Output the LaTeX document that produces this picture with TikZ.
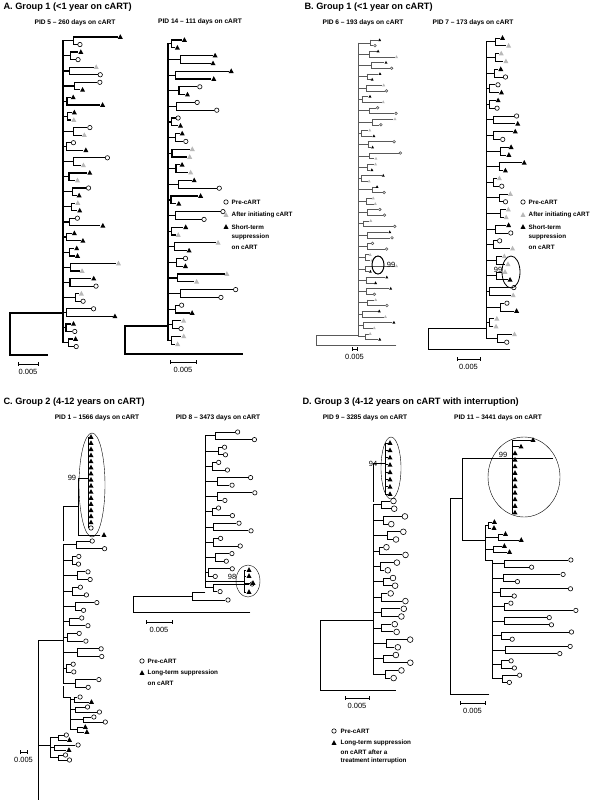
\documentclass[tikz,border=0pt]{standalone}
\usepackage{fontspec}
\setmainfont{Liberation Sans}
\usepackage{tikz}

\tikzset{
  pre/.pic={\draw[line width=0.6pt, solid] (0,0) circle (2.2);},
  aft/.pic={\fill[gray!55] (0,-2.8) -- (2.5,1.8) -- (-2.5,1.8) -- cycle;},
  sup/.pic={\fill[black] (0,-2.8) -- (2.5,1.8) -- (-2.5,1.8) -- cycle;},
  ttl/.style={anchor=west, font=\bfseries\fontsize{9.2}{10}\selectfont},
  sub/.style={font=\bfseries\fontsize{6.6}{7.5}\selectfont},
  leg/.style={anchor=west, font=\bfseries\fontsize{6.3}{7}\selectfont, inner sep=0.5pt},
  bs/.style={font=\fontsize{7.5}{8.5}\selectfont},
  bar/.style={line width=0.6pt},
}
\def\tipsc{1}

% one tip symbol: 1 pre-cART, 2 after initiating, 3 suppression
\newcommand\tipmark[3]{%
  \pgfmathtruncatemacro\mk{#1==0 ? random(1,3) : (#1==4 ? 2*random(0,1)+1 : #1)}%
  \ifcase\mk\or\pic[scale=\tipsc] at (#2,#3) {pre};\or\pic[scale=\tipsc] at (#2,#3) {aft};\or\pic[scale=\tipsc] at (#2,#3) {sup};\fi}

% ladder of cherries: backbone x, top y, cherries, spacing, length, seed, tips
\newcommand\phylo[7]{%
  \pgfmathsetseed{#6}
  \foreach \k in {1,...,#3}{
    \pgfmathsetmacro\ya{#2+(2*\k-2)*#4}
    \pgfmathsetmacro\yb{\ya+#4}
    \pgfmathsetmacro\ym{\ya+#4/2}
    \pgfmathsetmacro\xc{#1+3+rnd*12}
    \draw (#1,\ym) -- (\xc,\ym) (\xc,\ya) -- (\xc,\yb);
    \foreach \yy in {\ya,\yb}{
      \pgfmathsetmacro\xl{\xc+3+rnd^2*#5}
      \draw (\xc,\yy) -- (\xl,\yy);
      \tipmark{#7}{\xl+3*\tipsc}{\yy}
    }
  }
  \draw (#1,#2+#4/2) -- (#1,#2+#3*2*#4-1.5*#4);
}

% scale bar: left x, right x, y
\newcommand\scalebar[3]{%
  \draw[bar] (#1,#3) -- (#2,#3);
  \draw[bar] (#1,#3-1.5) -- (#1,#3+1.5) (#2,#3-1.5) -- (#2,#3+1.5);
  \node[bs] at ({(#1+#2)/2},#3+8) {0.005};
}

\begin{document}
\begin{tikzpicture}[x=1pt, y=-1pt, line cap=rect]
\useasboundingbox[fill=white] (0,0) rectangle (606,800);

% ---------------- Panel A
\node[ttl] at (0,7) {A. Group 1 (<1 year on cART)};
\node[sub] at (75,23) {PID 5 – 260 days on cART};
\node[sub] at (200,22) {PID 14 – 111 days on cART};
\begin{scope}[line width=1.2pt]
  \phylo{63}{37}{21}{7.55}{45}{11}{0}
  \draw (63,313) -- (10,313) -- (10,355) -- (47,355);
  \phylo{168}{40}{20}{7.8}{50}{23}{0}
  \draw (168,326) -- (125,326) -- (125,354) -- (242,354);
\end{scope}
\scalebar{18}{38}{364}
\scalebar{170}{196}{362}
\pic at (226,202) {pre};  \node[leg] at (231,202) {Pre-cART};
\pic at (226,215) {aft};  \node[leg] at (231,215) {After initiating cART};
\pic at (226,227) {sup};  \node[leg] at (231,227) {Short-term};
\node[leg] at (231,237) {suppression};
\node[leg] at (231,247) {on cART};

% ---------------- Panel B
\node[ttl] at (301,7) {B. Group 1 (<1 year on cART)};
\node[sub] at (363,23) {PID 6 – 193 days on cART};
\node[sub] at (473,23) {PID 7 – 173 days on cART};
\begin{scope}[line width=0.5pt, draw=gray!70!black]
  \def\tipsc{0.6}
  \phylo{358}{40}{27}{5.65}{28}{37}{0}
  \draw (358,335) -- (316,335) -- (316,345) -- (396,345);
\end{scope}
\draw[line width=1pt] (378,265) ellipse (6 and 9);
\node[bs] at (391,265) {99};
\scalebar{352}{357}{349}
\begin{scope}[line width=0.9pt]
  \phylo{486}{38}{20}{7.8}{20}{41}{0}
  \draw (486,328) -- (428,328) -- (428,349) -- (510,349);
\end{scope}
\draw[line width=0.8pt] (511,272) ellipse (9 and 16);
\node[bs] at (498,270) {99};
\scalebar{457}{480}{359}
\pic at (523,202) {pre};  \node[leg] at (528,202) {Pre-cART};
\pic at (523,215) {aft};  \node[leg] at (528,215) {After initiating cART};
\pic at (523,227) {sup};  \node[leg] at (528,227) {Short-term};
\node[leg] at (528,237) {suppression};
\node[leg] at (528,247) {on cART};

% ---------------- Panel C
\node[ttl] at (0,402) {C. Group 2 (4-12 years on cART)};
\node[sub] at (97,418) {PID 1 – 1566 days on cART};
\node[sub] at (218,418) {PID 8 – 3473 days on cART};
\begin{scope}[line width=0.8pt]
  \draw (88,437) -- (88,528) (78,478) -- (88,478);
  \foreach \i in {0,...,14}{
    \draw (88,437+\i*6.1) -- (89,437+\i*6.1);
    \pic at (91,437+\i*6.1) {sup};
  }
  \pic at (91,528) {pre};
  \draw (78,478) -- (78,535) -- (100,535);
  \pic at (104,535) {sup};
  \phylo{63}{541}{10}{7.7}{22}{53}{1}
  \phylo{70}{697}{4}{5}{45}{59}{4}
  \phylo{50}{735}{3}{5}{22}{61}{4}
  \draw (78,506) -- (63,506) -- (63,541);
  \draw (63,686) -- (63,697) -- (70,697) (70,697) -- (70,722);
  \draw (63,640) -- (38,640) -- (38,800);
  \draw (38,745) -- (50,745);
  \phylo{205}{432}{11}{7.6}{34}{67}{1}
  \draw (232,581) -- (244,581) (244,570) -- (244,592);
  \foreach \y/\dx in {570/0,576/0,583/4,592/0}{
    \draw (244,\y) -- (246+\dx,\y);
    \pic at (249+\dx,\y) {sup};
  }
  \draw (205,581) -- (232,581);
  \draw (205,592) -- (192,592) -- (192,600) -- (225,600);
  \pic at (228,600) {pre};
  \draw (192,596) -- (133,596) -- (133,612) -- (250,612);
\end{scope}
\draw (92,485) ellipse (13 and 52);
\node[bs] at (72,478) {99};
\draw (248,581) ellipse (12 and 16);
\node[bs] at (232,577) {98};
\scalebar{20}{27}{752}
\scalebar{146}{172}{622}
\pic at (142,661) {pre};  \node[leg] at (147,661) {Pre-cART};
\pic at (142,673) {sup};  \node[leg] at (147,673) {Long-term suppression};
\node[leg] at (147,683) {on cART};

% ---------------- Panel D
\node[ttl] at (299,402) {D. Group 3 (4-12 years on cART with interruption)};
\node[sub] at (365,418) {PID 9 – 3285 days on cART};
\node[sub] at (498,418) {PID 11 – 3441 days on cART};
\begin{scope}[line width=1pt]
  \draw (385,443) -- (385,494) (373,463) -- (385,463);
  \foreach \i in {0,...,7}{
    \draw (385,443+\i*7.3) -- (387,443+\i*7.3);
    \pic at (390,443+\i*7.3) {sup};
  }
  \def\tipsc{1.3}
  \phylo{373}{501}{12}{7.7}{22}{71}{1}
  \draw (373,463) -- (373,501);
  \draw (373,620) -- (320,620) -- (320,690) -- (395,690);
\end{scope}
\begin{scope}[line width=0.8pt]
  \draw (512,440) -- (512,514) (462,458) -- (512,458);
  \foreach \i/\dx in {0/18,1/6,2/0,3/0,4/0,5/0,6/0,7/0,8/0,9/0,10/0,11/0}{
    \draw (512,440+\i*6.6) -- (513+\dx,440+\i*6.6);
    \pic at (515+\dx,440+\i*6.6) {sup};
  }
  \draw (512,458) -- (553,458);
  \phylo{485}{522}{3}{6}{30}{79}{3}
  \phylo{492}{560}{9}{7.2}{70}{83}{1}
  \draw (462,458) -- (462,540) -- (485,540) (485,530) -- (485,560) -- (492,560) -- (492,570);
  \draw (462,498) -- (450,498) -- (450,694) -- (489,694);
\end{scope}
\draw (391,468) ellipse (10 and 31);
\node[bs] at (373,464) {94};
\draw (524,477) ellipse (36 and 40);
\node[bs] at (503,455) {99};
\scalebar{345}{369}{698}
\scalebar{460}{485}{703}
\pic at (334,731) {pre};  \node[leg] at (340,731) {Pre-cART};
\pic at (334,743) {sup};  \node[leg] at (340,743) {Long-term suppression};
\node[leg] at (340,752) {on cART after a};
\node[leg] at (340,761) {treatment interruption};
\end{tikzpicture}
\end{document}
